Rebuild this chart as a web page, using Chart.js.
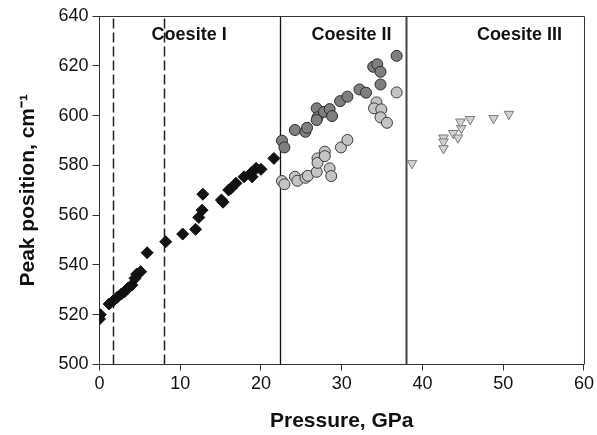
<!DOCTYPE html>
<html>
<head>
<meta charset="utf-8">
<title>Coesite peak position vs pressure</title>
<script src="https://cdn.jsdelivr.net/npm/chart.js@4.4.0/dist/chart.umd.min.js"></script>
<style>
    html, body { margin: 0; padding: 0; background: #fff; }
</style>
</head>
<body>
<canvas id="peakChart" width="597" height="435"></canvas>
<script>
// Coesite I (black diamonds)
const coesiteIPressure = [0.0, 0.1, 1.2, 1.7, 2.2, 2.7, 3.1, 3.5, 4.0, 4.4, 4.6, 5.1, 5.9,
    8.2, 10.3, 11.9, 12.3, 12.7, 12.8, 15.1, 15.3, 16.0, 16.3, 16.9, 17.9, 18.8, 18.9, 19.4, 20.0, 21.6];
const coesiteIPeak = [518.3, 520.0, 524.3, 525.6, 527.0, 528.3, 529.2, 530.6, 531.9, 534.6, 536.3, 537.3, 544.9,
    549.3, 552.4, 554.3, 559.1, 562.0, 568.4, 566.1, 565.2, 570.1, 570.8, 572.8, 575.4, 577.0, 575.4, 578.8, 578.4, 582.8];

// Coesite II, upper branch (dark circles)
const coesiteIIUpperPressure = [22.6, 22.9, 24.2, 25.5, 25.7, 26.9, 27.0, 26.9, 27.8, 28.5, 28.8, 29.8, 30.7,
    32.2, 33.0, 33.9, 34.4, 34.8, 34.8, 36.8];
const coesiteIIUpperPeak = [589.9, 587.2, 594.2, 593.5, 595.1, 602.9, 599.3, 598.2, 601.5, 602.6, 599.8, 605.8, 607.6,
    610.5, 609.2, 619.6, 620.6, 617.6, 612.5, 624.0];

// Coesite II, lower branch (light circles)
const coesiteIILowerPressure = [22.6, 22.9, 24.2, 24.5, 25.5, 25.8, 26.9, 27.0, 27.0, 27.9, 27.9, 28.5, 28.7,
    29.9, 30.7, 34.3, 34.0, 34.9, 34.8, 35.6, 36.8];
const coesiteIILowerPeak = [573.7, 572.4, 575.4, 573.8, 575.0, 575.8, 577.4, 582.8, 581.0, 585.5, 583.7, 578.8, 575.7,
    587.2, 590.2, 605.3, 602.9, 602.5, 599.3, 597.1, 609.3];

// Coesite III (light triangles)
const coesiteIIIPressure = [38.7, 42.6, 42.6, 42.6, 43.8, 44.4, 44.8, 44.7, 45.9, 48.8, 50.7];
const coesiteIIIPeak = [580.8, 591.1, 589.5, 586.8, 592.9, 591.1, 594.9, 597.5, 598.5, 598.9, 600.6];

// Phase boundaries (GPa) and labels
const dashedBoundaries = [1.7, 8.0];
const solidBoundaries = [22.3, 38.0];
const phaseNames = ['Coesite I', 'Coesite II', 'Coesite III'];
const phaseLabelPressure = [11.1, 31.2, 52.0];
const phaseLabelPeak = 632.5;

const xTicks = [0, 10, 20, 30, 40, 50, 60];
const yTicks = [500, 520, 540, 560, 580, 600, 620, 640];

function toPoints(xs, ys) {
    return xs.map((x, i) => ({ x: x, y: ys[i] }));
}

// Draws the frame, the phase boundary lines and the phase labels
const phasePlugin = {
    id: 'phasePlugin',
    beforeDatasetsDraw(chart) {
        const { ctx, chartArea, scales } = chart;
        ctx.save();

        // dashed boundaries
        ctx.strokeStyle = '#222';
        ctx.lineWidth = 1.5;
        ctx.setLineDash([10, 4]);
        dashedBoundaries.forEach(p => {
            const x = Math.round(scales.x.getPixelForValue(p)) + 0.5;
            ctx.beginPath();
            ctx.moveTo(x, chartArea.bottom);
            ctx.lineTo(x, chartArea.top);
            ctx.stroke();
        });

        // solid boundaries
        ctx.setLineDash([]);
        solidBoundaries.forEach((p, i) => {
            const x = Math.round(scales.x.getPixelForValue(p)) + 0.5;
            ctx.strokeStyle = i === 0 ? '#111' : '#444';
            ctx.lineWidth = i === 0 ? 1.3 : 2;
            ctx.beginPath();
            ctx.moveTo(x, chartArea.bottom);
            ctx.lineTo(x, chartArea.top);
            ctx.stroke();
        });

        // top and right frame
        ctx.strokeStyle = '#333';
        ctx.lineWidth = 1;
        ctx.beginPath();
        ctx.moveTo(chartArea.left, chartArea.top + 0.5);
        ctx.lineTo(chartArea.right + 0.5, chartArea.top + 0.5);
        ctx.lineTo(chartArea.right + 0.5, chartArea.bottom);
        ctx.stroke();

        // phase labels
        ctx.fillStyle = '#111';
        ctx.font = 'bold 18px "Liberation Sans", Arial, sans-serif';
        ctx.textAlign = 'center';
        ctx.textBaseline = 'middle';
        phaseNames.forEach((name, i) => {
            ctx.fillText(name, scales.x.getPixelForValue(phaseLabelPressure[i]), scales.y.getPixelForValue(phaseLabelPeak));
        });
        ctx.restore();
    }
};

const tickFont = { family: '"Liberation Sans", Arial, sans-serif', size: 18 };
const titleFont = { family: '"Liberation Sans", Arial, sans-serif', size: 21, weight: 'bold' };

const ctx = document.getElementById('peakChart').getContext('2d');
new Chart(ctx, {
    type: 'scatter',
    data: {
        datasets: [
            {
                label: 'Coesite I',
                data: toPoints(coesiteIPressure, coesiteIPeak),
                pointStyle: 'rectRot',
                pointRadius: 6,
                backgroundColor: '#111',
                borderColor: '#111',
                borderWidth: 1
            },
            {
                label: 'Coesite II (upper)',
                data: toPoints(coesiteIIUpperPressure, coesiteIIUpperPeak),
                pointStyle: 'circle',
                pointRadius: 5.5,
                backgroundColor: '#7f7f7f',
                borderColor: '#2a2a2a',
                borderWidth: 1
            },
            {
                label: 'Coesite II (lower)',
                data: toPoints(coesiteIILowerPressure, coesiteIILowerPeak),
                pointStyle: 'circle',
                pointRadius: 5.5,
                backgroundColor: '#c4c4c4',
                borderColor: '#3a3a3a',
                borderWidth: 1
            },
            {
                label: 'Coesite III',
                data: toPoints(coesiteIIIPressure, coesiteIIIPeak),
                pointStyle: 'triangle',
                rotation: 180,
                pointRadius: 5.5,
                backgroundColor: '#d2d2d2',
                borderColor: '#7a7a7a',
                borderWidth: 1
            }
        ]
    },
    options: {
        responsive: false,
        animation: false,
        layout: { padding: { top: 16, right: 10.5, left: 0, bottom: 0 } },
        plugins: {
            legend: { display: false },
            tooltip: { enabled: false }
        },
        scales: {
            x: {
                type: 'linear',
                min: 0,
                max: 60,
                afterBuildTicks: scale => { scale.ticks = xTicks.map(v => ({ value: v })); },
                afterFit: scale => { scale.height = 70.5; },
                ticks: { font: tickFont, color: '#111', padding: 3 },
                grid: { drawOnChartArea: false, drawTicks: true, tickLength: 6, color: '#333' },
                border: { display: true, color: '#333', width: 1 },
                title: { display: true, text: 'Pressure, GPa', font: titleFont, color: '#111', padding: { top: 0, bottom: 1.5 } }
            },
            y: {
                type: 'linear',
                min: 500,
                max: 640,
                afterBuildTicks: scale => { scale.ticks = yTicks.map(v => ({ value: v })); },
                afterFit: scale => { scale.width = 99.5; },
                ticks: { font: tickFont, color: '#111', padding: 4 },
                grid: { drawOnChartArea: false, drawTicks: true, tickLength: 7, color: '#333' },
                border: { display: true, color: '#333', width: 1 },
                title: { display: true, text: 'Peak position, cm\u207B\u00B9', font: titleFont, color: '#111', padding: { top: 15.5, bottom: 0 } }
            }
        }
    },
    plugins: [phasePlugin]
});
</script>
</body>
</html>
